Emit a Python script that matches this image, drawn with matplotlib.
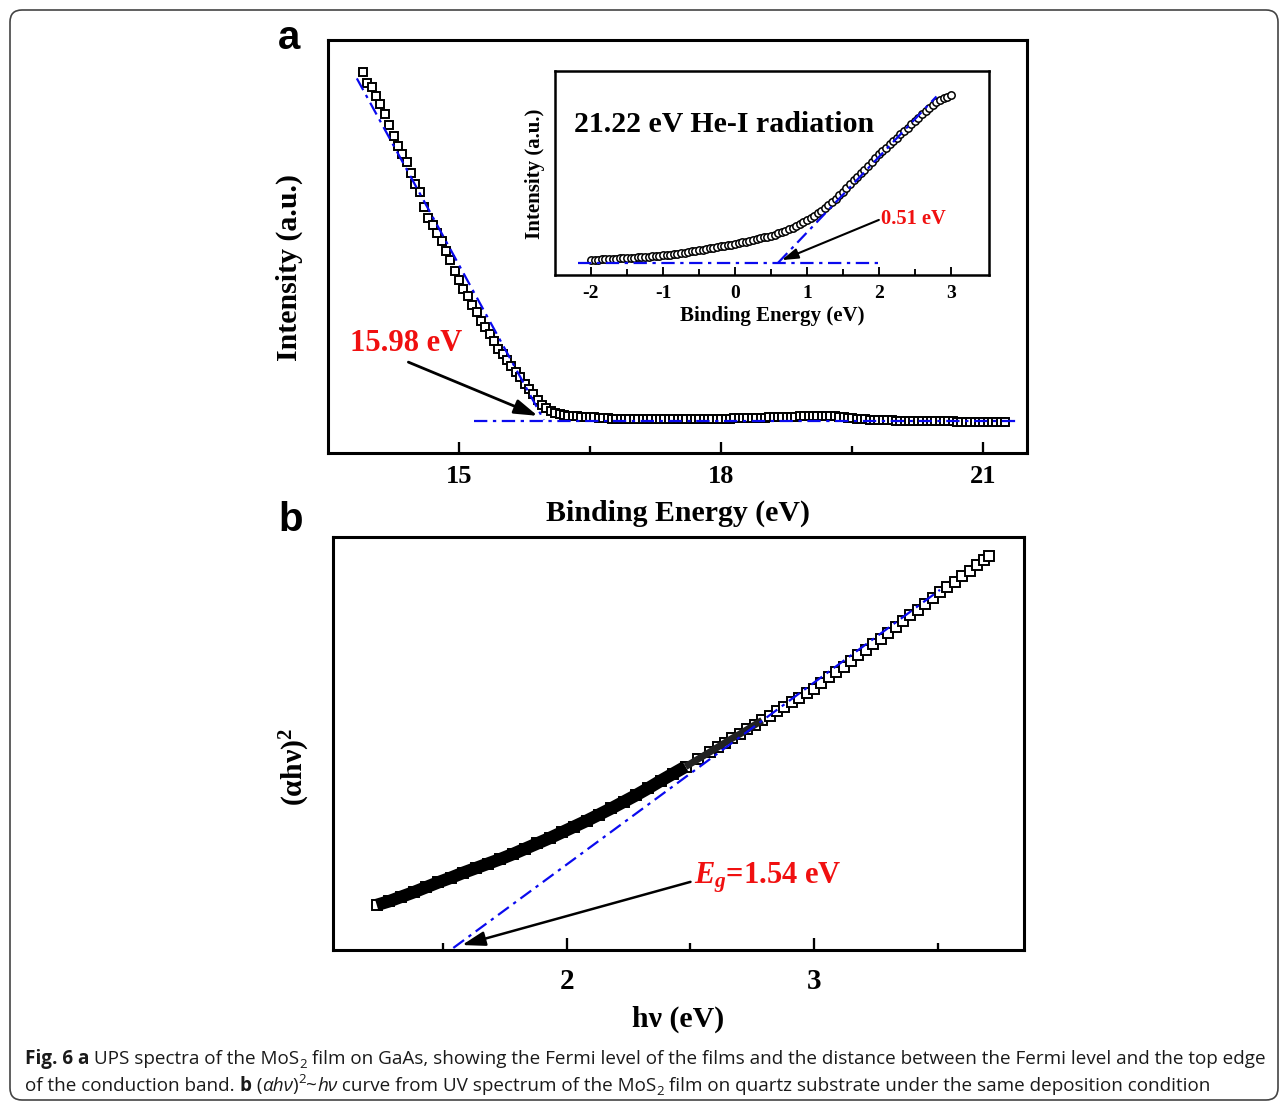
import numpy as np
import matplotlib.pyplot as plt
from matplotlib.patches import FancyBboxPatch

plt.rcParams['font.family'] = ['Liberation Serif', 'DejaVu Serif']
plt.rcParams['font.weight'] = 'bold'
plt.rcParams['axes.labelweight'] = 'bold'
plt.rcParams['axes.unicode_minus'] = False
plt.rcParams['mathtext.fontset'] = 'custom'
plt.rcParams['mathtext.rm'] = 'Liberation Serif:bold'
plt.rcParams['mathtext.bf'] = 'Liberation Serif:bold'
plt.rcParams['mathtext.it'] = 'Liberation Serif:italic:bold'

BLUE = '#0a0aee'
RED = '#f01010'

# ---- panel a: UPS spectrum, 0.05 eV steps starting at 13.90 eV
a_start, a_step = 13.90, 0.05
a_intensity = [
    92.2, 89.7, 88.5, 86.5, 84.5, 82.2, 79.3, 76.7, 74.4, 72.5,
    70.4, 67.8, 65.2, 63.1, 59.6, 57.0, 55.3, 53.2, 51.3, 49.0,
    46.8, 44.1, 41.9, 39.8, 37.9, 35.8, 34.1, 32.0, 30.4, 28.8,
    27.0, 25.3, 24.0, 22.5, 21.0, 19.7, 18.3, 16.8, 15.4, 14.2,
    12.9, 11.6, 10.8, 10.2, 9.8, 9.45, 9.25, 9.05, 8.9, 8.85,
    8.8, 8.75, 8.7, 8.6, 8.55, 8.45, 8.4, 8.3, 8.25, 8.2,
    8.2, 8.15, 8.15, 8.15, 8.15, 8.15, 8.15, 8.15, 8.2, 8.2,
    8.2, 8.2, 8.2, 8.2, 8.25, 8.25, 8.25, 8.25, 8.3, 8.3,
    8.3, 8.3, 8.3, 8.35, 8.35, 8.4, 8.4, 8.45, 8.45, 8.5,
    8.5, 8.5, 8.55, 8.6, 8.6, 8.65, 8.7, 8.7, 8.75, 8.8,
    8.85, 8.9, 8.95, 9.0, 9.0, 9.0, 8.95, 8.9, 8.85, 8.75,
    8.65, 8.55, 8.45, 8.35, 8.25, 8.15, 8.1, 8.05, 8.0, 7.95,
    7.9, 7.9, 7.85, 7.85, 7.8, 7.8, 7.8, 7.75, 7.75, 7.75,
    7.7, 7.7, 7.7, 7.65, 7.65, 7.65, 7.6, 7.6, 7.6, 7.55,
    7.55, 7.55, 7.55, 7.5, 7.5, 7.5, 7.5, 7.5,
]
a_energy = a_start + a_step * np.arange(len(a_intensity))
a_fit_x = [13.83, 15.97]
a_fit_y = [90.7, 8.0]
a_base_x = [15.17, 21.37]
a_base_y = [7.8, 7.8]
a_cutoff = 15.98

# ---- inset: valence band edge, 0.05 eV steps starting at -2 eV
in_start, in_step = -2.0, 0.05
in_intensity = [
    7.4, 7.5, 7.5, 7.6, 7.7, 7.8, 7.9, 8.0, 8.1, 8.2,
    8.3, 8.4, 8.5, 8.6, 8.7, 8.9, 9.0, 9.1, 9.3, 9.4,
    9.6, 9.8, 10.0, 10.3, 10.5, 10.8, 11.0, 11.3, 11.6, 11.9,
    12.2, 12.5, 12.8, 13.1, 13.4, 13.7, 14.0, 14.3, 14.6, 14.9,
    15.2, 15.6, 16.0, 16.4, 16.8, 17.2, 17.6, 18.0, 18.4, 18.8,
    19.2, 19.8, 20.4, 21.0, 21.7, 22.4, 23.1, 24.0, 24.9, 25.8,
    26.8, 27.9, 29.0, 30.2, 31.4, 32.9, 34.3, 35.8, 37.3, 39.1,
    40.9, 42.8, 44.6, 46.4, 48.2, 49.9, 51.7, 53.6, 55.5, 57.4,
    59.3, 60.9, 62.5, 64.1, 65.7, 67.3, 68.9, 70.5, 72.1, 73.8,
    75.5, 77.2, 78.9, 80.4, 81.9, 83.4, 84.8, 85.7, 86.6, 87.4,
    88.2,
]
in_energy = in_start + in_step * np.arange(len(in_intensity))
in_fit_x = [0.60, 2.80]
in_fit_y = [6.0, 87.5]
in_base_x = [-2.18, 2.0]
in_base_y = [5.9, 5.9]
in_edge = 0.51

# ---- panel b: Tauc plot
b_energy = [
    1.23, 1.28, 1.33, 1.38, 1.43, 1.48, 1.53, 1.58, 1.63, 1.68,
    1.73, 1.78, 1.83, 1.88, 1.93, 1.98, 2.03, 2.08, 2.13, 2.18,
    2.23, 2.28, 2.33, 2.38, 2.43, 2.48, 2.53, 2.58,
    2.61, 2.64, 2.67, 2.70, 2.73, 2.76, 2.79, 2.82, 2.85, 2.88,
    2.91, 2.94, 2.97, 3.00,
    3.03, 3.06, 3.09, 3.12, 3.15, 3.18, 3.21, 3.24, 3.27, 3.30,
    3.33, 3.36, 3.39, 3.42, 3.45, 3.48, 3.51, 3.54, 3.57, 3.60,
    3.63, 3.66, 3.69, 3.71,
]
b_value = [
    10.9, 11.8, 12.9, 14.0, 15.2, 16.4, 17.5, 18.7, 19.8, 20.9,
    22.0, 23.2, 24.5, 25.8, 27.1, 28.5, 29.9, 31.3, 32.8, 34.3,
    35.9, 37.5, 39.2, 41.0, 42.7, 44.4, 46.2, 48.0,
    49.1, 50.2, 51.3, 52.3, 53.4, 54.5, 55.6, 56.7, 57.8, 58.9,
    60.0, 61.1, 62.2, 63.3,
    64.6, 66.0, 67.3, 68.6, 70.0, 71.4, 72.7, 74.1, 75.4, 76.8,
    78.2, 79.6, 81.0, 82.4, 83.8, 85.2, 86.6, 87.9, 89.2, 90.5,
    91.8, 93.1, 94.4, 95.4,
]
b_fit_x = [1.54, 3.51]
b_fit_y = [0.5, 87.2]
b_gap = 1.54

W, H = 1281, 1103
fig = plt.figure(figsize=(W / 100, H / 100), dpi=100)


def box(l, t, r, b):
    return [l / W, 1 - b / H, (r - l) / W, (b - t) / H]


def style(ax, lw, major, minor, size, pad):
    for s in ax.spines.values():
        s.set_linewidth(lw)
    ax.set_yticks([])
    ax.tick_params(axis='x', which='both', direction='in', width=lw * 0.75,
                   labelsize=size, pad=pad)
    ax.tick_params(axis='x', which='major', length=major)
    ax.tick_params(axis='x', which='minor', length=minor)


dashdot = dict(color=BLUE, lw=1.6, dashes=(6, 2.5, 1.5, 2.5))

# panel a
ax_a = fig.add_axes(box(328, 40, 1027, 453))
ax_a.plot(a_energy, a_intensity, 's', ms=6.3, mfc='white', mec='black', mew=1.4)
ax_a.plot(a_fit_x, a_fit_y, **dashdot)
ax_a.plot(a_base_x, a_base_y, **dashdot)
ax_a.set_xlim(13.5, 21.5)
ax_a.set_ylim(0, 100)
ax_a.set_xticks([15, 18, 21])
ax_a.set_xticks([16.5, 19.5], minor=True)
style(ax_a, 2.2, 8, 5, 19, 9)
ax_a.set_xlabel('Binding Energy (eV)', fontsize=21.5, labelpad=8)
ax_a.set_ylabel('Intensity (a.u.)', fontsize=21.5)
ax_a.yaxis.set_label_coords(-0.036, 0.448)
ax_a.annotate('', xy=(a_cutoff - 0.08, 9.0), xytext=(14.42, 22.0),
              arrowprops=dict(arrowstyle='-|>,head_length=0.7,head_width=0.22',
                              color='black', lw=2, mutation_scale=20,
                              shrinkA=0, shrinkB=0))
ax_a.text(14.39, 26.4, f'{a_cutoff:.2f} eV', color=RED, fontsize=22,
          ha='center', va='center')

# inset
ax_in = fig.add_axes(box(555, 71, 989, 275))
ax_in.plot(in_energy, in_intensity, 'o', ms=5.3, mfc='white', mec='black', mew=1.1)
ax_in.plot(in_fit_x, in_fit_y, **dashdot)
ax_in.plot(in_base_x, in_base_y, **dashdot)
ax_in.set_xlim(-2.5, 3.53)
ax_in.set_ylim(0, 100)
ax_in.set_xticks([-2, -1, 0, 1, 2, 3])
ax_in.set_xticks([-1.5, -0.5, 0.5, 1.5, 2.5], minor=True)
style(ax_in, 1.8, 6, 4, 14, 7)
ax_in.set_xlabel('Binding Energy (eV)', fontsize=15, labelpad=3)
ax_in.set_ylabel('Intensity (a.u.)', fontsize=15)
ax_in.yaxis.set_label_coords(-0.023, 0.4975)
ax_in.text(0.044, 0.74, '21.22 eV He-I radiation', transform=ax_in.transAxes,
           fontsize=21.5, ha='left', va='center')
ax_in.annotate('', xy=(in_edge + 0.14, 7.3), xytext=(2.0, 27.0),
               arrowprops=dict(arrowstyle='-|>,head_length=0.7,head_width=0.22',
                               color='black', lw=1.5, mutation_scale=14,
                               shrinkA=0, shrinkB=0))
ax_in.text(2.03, 27.5, f'{in_edge:.2f} eV', color=RED, fontsize=14.8,
           ha='left', va='center')

# panel b: the low-energy points are so dense they merge into a solid band
ax_b = fig.add_axes(box(333, 537, 1024, 950))
ax_b.plot(b_energy, b_value, 's', ms=7, mfc='white', mec='black', mew=1.4)
solid = [i for i, e in enumerate(b_energy) if e <= 2.52]
mixed = [i for i, e in enumerate(b_energy) if 2.48 <= e <= 2.80]
ax_b.plot([b_energy[i] for i in solid], [b_value[i] for i in solid],
          color='black', lw=9, solid_capstyle='butt')
ax_b.plot([b_energy[i] for i in mixed], [b_value[i] for i in mixed],
          color='#222222', lw=5, solid_capstyle='butt')
ax_b.plot(b_fit_x, b_fit_y, **dashdot)
ax_b.set_xlim(1.053, 3.85)
ax_b.set_ylim(0, 100)
ax_b.set_xticks([2, 3])
ax_b.set_xticks([1.5, 2.5, 3.5], minor=True)
style(ax_b, 2.2, 9, 5, 21, 13)
ax_b.set_xlabel('hν (eV)', fontsize=21.5, labelpad=8)
ax_b.set_ylabel('(αhν)$^{2}$', fontsize=21.5)
ax_b.yaxis.set_label_coords(-0.030, 0.443)
ax_b.annotate('', xy=(b_gap + 0.035, 1.2), xytext=(2.50, 16.5),
              arrowprops=dict(arrowstyle='-|>,head_length=0.7,head_width=0.22',
                              color='black', lw=1.8, mutation_scale=20,
                              shrinkA=0, shrinkB=0))
ax_b.text(2.514, 17.4, f'$E_g$={b_gap:.2f} eV', color=RED, fontsize=22,
          ha='left', va='center')

# panel letters
fig.text(289 / W, 1 - 38 / H, 'a', fontsize=29, family='Liberation Sans',
         weight='bold', ha='center', va='center')
fig.text(291 / W, 1 - 520 / H, 'b', fontsize=29, family='Liberation Sans',
         weight='bold', ha='center', va='center')

# frame
fig.add_artist(FancyBboxPatch((0.10, 0.03), 12.68, 10.90,
                              boxstyle='round,pad=0,rounding_size=0.12',
                              transform=fig.dpi_scale_trans, fill=False,
                              ec='#444444', lw=1.2))

# caption
cap_family = ['Open Sans', 'DejaVu Sans']
cap_color = '#1a1a1a'
renderer = fig.canvas.get_renderer()


def width(s, **kw):
    t1 = fig.text(0, 0, '|' + s + '|', **kw)
    t0 = fig.text(0, 0, '||', **kw)
    w = t1.get_window_extent(renderer).width - t0.get_window_extent(renderer).width
    t1.remove()
    t0.remove()
    return w


def caption(pieces, x_px, base_px, size):
    x = x_px
    for s, weight, style_, scale, dy in pieces:
        kw = dict(family=cap_family, weight=weight, style=style_,
                  fontsize=size * scale, color=cap_color)
        fig.text(x / W, (H - base_px + dy) / H, s, va='baseline', ha='left', **kw)
        x += width(s, **kw)


line1 = [
    ('Fig. 6 a', 'bold', 'normal', 1, 0),
    (' UPS spectra of the MoS', 'normal', 'normal', 1, 0),
    ('2', 'normal', 'normal', 0.7, -4),
    (' film on GaAs, showing the Fermi level of the films and the distance '
     'between the Fermi level and the top edge', 'normal', 'normal', 1, 0),
]
line2 = [
    ('of the conduction band. ', 'normal', 'normal', 1, 0),
    ('b', 'bold', 'normal', 1, 0),
    (' (', 'normal', 'normal', 1, 0),
    ('αhν', 'normal', 'italic', 1, 0),
    (')', 'normal', 'normal', 1, 0),
    ('2', 'normal', 'normal', 0.7, 8),
    ('~', 'normal', 'normal', 1, 0),
    ('hν', 'normal', 'italic', 1, 0),
    (' curve from UV spectrum of the MoS', 'normal', 'normal', 1, 0),
    ('2', 'normal', 'normal', 0.7, -4),
    (' film on quartz substrate under the same deposition condition',
     'normal', 'normal', 1, 0),
]
total = sum(width(s, family=cap_family, weight=w, style=st, fontsize=10 * sc)
            for s, w, st, sc, dy in line1)
cap_size = 10 * 1245 / total
caption(line1, 25, 1064, cap_size)
caption(line2, 25, 1091, cap_size)

fig.savefig('out.png', dpi=100)
